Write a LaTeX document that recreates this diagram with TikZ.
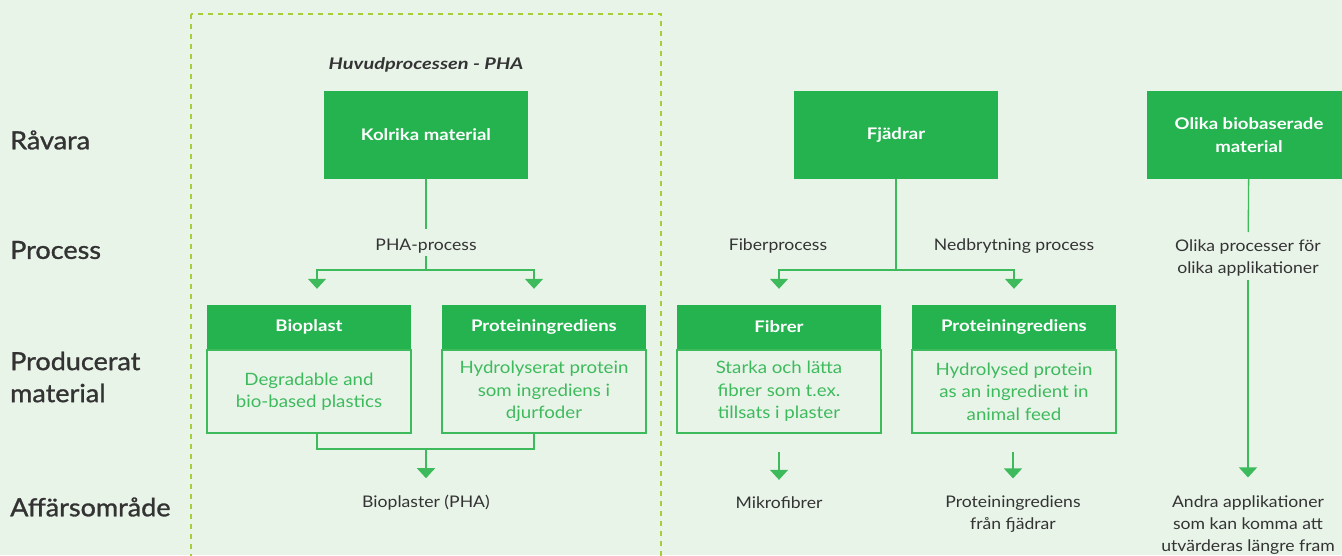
\documentclass[tikz,border=0pt]{standalone}
\usepackage{fontspec}
\setmainfont{Lato}[FakeStretch=1.1, BoldFeatures={FakeStretch=1.16}, BoldItalicFeatures={FakeStretch=1.25}]
\newfontfamily\rowfont{Lato}[FakeStretch=1.08, FakeBold=1.2]
\usetikzlibrary{arrows.meta,positioning}
\definecolor{bg}{HTML}{E9F4E9}
\definecolor{grn}{HTML}{25B350}
\definecolor{lgrn}{HTML}{3DBA5C}
\definecolor{dashgrn}{HTML}{A6CE39}
\definecolor{txt}{HTML}{333333}
\tikzset{topbox/.style={fill=grn, text=white, minimum width=204pt, minimum height=88pt,
    align=center, inner sep=0pt, font=\bfseries\fontsize{16}{23}\selectfont}}
\tikzset{headbox/.style={fill=grn, text=white, minimum width=204pt, minimum height=44pt,
    inner sep=0pt, font=\bfseries\fontsize{16}{20}\selectfont}}
\tikzset{bodybox/.style={draw=lgrn, line width=1.5pt, text=lgrn, minimum width=204pt,
    minimum height=83pt, align=center, inner sep=0pt, font=\fontsize{17}{22.5}\selectfont}}
\tikzset{lbl/.style={text=txt, align=center, inner sep=0pt, font=\fontsize{16}{22}\selectfont}}
\tikzset{rowlbl/.style={text=txt, align=left, anchor=west, inner sep=0pt,
    font=\rowfont\fontsize{25}{32}\selectfont}}
\tikzset{conn/.style={draw=lgrn, line width=1.3pt}}
\tikzset{arr/.style={conn, -{Triangle[width=18pt,length=10pt]}}}

\begin{document}
\begin{tikzpicture}[x=1pt,y=-1pt]
    \fill[bg] (0,0) rectangle (1342,555);
    \clip (0,0) rectangle (1342,555);
    \draw[dashgrn, line width=1.3pt, dash pattern=on 5pt off 5pt] (191,14) rectangle (661,570);

    % row labels
    \node[rowlbl] (r1) at (10,140) {Råvara};
    \node[rowlbl] (r2) at (10,250) {Process};
    \node[rowlbl] (r3) at (10,377) {Producerat\\material};
    \node[rowlbl] (r4) at (10,507) {Affärsområde};

    % raw materials
    \node[lbl, font=\bfseries\itshape\fontsize{16}{22}\selectfont] (huv) at (426,65) {Huvudprocessen - PHA};
    \node[topbox] (kol) at (426,135) {Kolrika material};
    \node[topbox] (fja) at (896,135) {Fjädrar};
    \node[topbox] (oli) at (1249,135) {Olika biobaserade\\material};

    % processes
    \node[lbl] (phap) at (426,246) {PHA-process};
    \node[lbl] (fibp) at (778,246) {Fiberprocess};
    \node[lbl] (nedp) at (1014,246) {Nedbrytning process};
    \node[lbl] (olip) at (1248,257.5) {Olika processer för\\olika applikationer};

    % produced material
    \node[headbox] (bioh) at (309,327) {Bioplast};
    \node[bodybox, below=0pt of bioh] (bio) {Degradable and\\bio-based plastics};
    \node[headbox] (proh) at (544,327) {Proteiningrediens};
    \node[bodybox, below=0pt of proh] (pro) {Hydrolyserat protein\\som ingrediens i\\djurfoder};
    \node[headbox] (fibh) at (779,327) {Fibrer};
    \node[bodybox, below=0pt of fibh] (fib) {Starka och lätta\\fibrer som t.ex.\\tillsats i plaster};
    \node[headbox] (prfh) at (1014,327) {Proteiningrediens};
    \node[bodybox, below=0pt of prfh] (prf) {Hydrolysed protein\\as an ingredient in\\animal feed};

    % business areas
    \node[lbl] (bp) at (426,503) {Bioplaster (PHA)};
    \node[lbl] (mik) at (779,503) {Mikrofibrer};
    \node[lbl] (prfa) at (1013,514) {Proteiningrediens\\från fjädrar};
    \node[lbl] (anda) at (1248,525) {Andra applikationer\\som kan komma att\\utvärderas längre fram};

    \coordinate (pj) at (426,270);
    \coordinate (pa) at (317,270);
    \coordinate (pb) at (534,270);
    \coordinate (bj) at (426,449);
    \coordinate (fj) at (896,270);

    \draw[conn, shorten >=10pt] (kol) -- (phap);
    \draw[conn, shorten <=3pt] (phap) -- (pj);
    \draw[arr, shorten >=16pt] (pj) -| (bioh.north -| pa);
    \draw[arr, shorten >=16pt] (pj) -| (proh.north -| pb);
    \draw[conn] (bio.south -| pa) |- (bj);
    \draw[conn] (pro.south -| pb) |- (bj);
    \draw[arr, shorten >=17pt] (bj) -- (bp);

    \draw[conn] (fja) -- (fj);
    \draw[arr, shorten >=16pt] (fj) -| (fibh.north);
    \draw[arr, shorten >=16pt] (fj) -| (prfh.north);
    \draw[arr, shorten <=18pt, shorten >=17pt] (fib) -- (mik);
    \draw[arr, shorten <=18pt, shorten >=17pt] (prf.south -| prfa) -- (prfa);

    \draw[conn, shorten >=7pt] (oli) -- (olip);
    \draw[arr, shorten <=4pt, shorten >=18pt] (olip) -- (anda);
\end{tikzpicture}
\end{document}
